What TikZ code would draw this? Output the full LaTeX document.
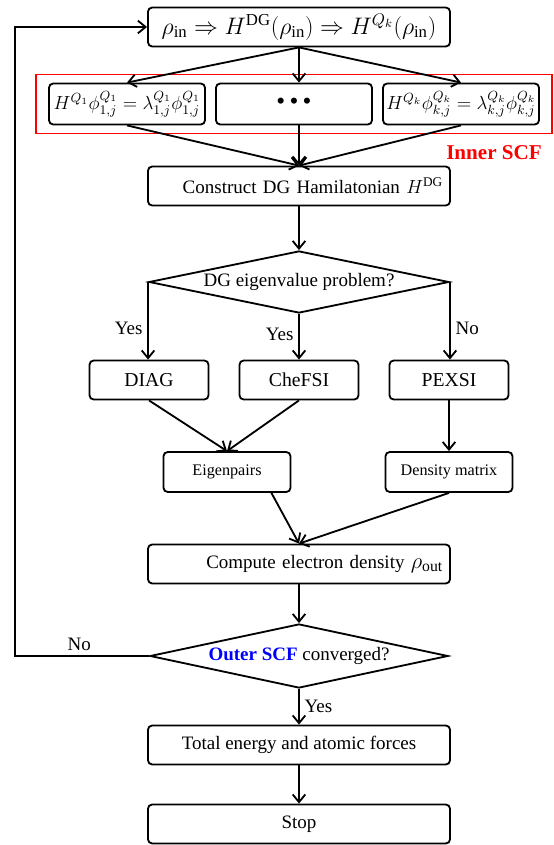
\documentclass[tikz,border=0pt]{standalone}
\usepackage{fix-cm}
\usepackage{fontspec}
\setmainfont{Liberation Serif}
\usepackage{tikz}
\usetikzlibrary{shapes.geometric,arrows.meta,fit}
\tikzset{
	bigbox/.style={draw, rounded corners=3pt, minimum width=7.55cm, minimum height=0.975cm, inner sep=1pt, font=\fontsize{13.5}{16}\selectfont},
	eqbox/.style={draw, rounded corners=3pt, minimum width=3.9cm, minimum height=1.025cm, inner sep=0.5pt, font=\fontsize{13.5}{16}\selectfont},
	solver/.style={draw, rounded corners=3pt, minimum width=2.975cm, minimum height=0.975cm, inner sep=1pt, font=\fontsize{14}{16}\selectfont},
	resbox/.style={draw, rounded corners=3pt, minimum width=3.175cm, minimum height=1cm, inner sep=1pt, font=\fontsize{11.5}{14}\selectfont},
	decision/.style={draw, diamond, aspect=4.8, inner sep=0pt, font=\fontsize{13.5}{16}\selectfont},
	lbl/.style={font=\fontsize{13.5}{16}\selectfont}
}

\begin{document}
\begin{tikzpicture}[x=0.025cm, y=-0.025cm, line width=1.3pt, >={Straight Barb[length=5.5pt,width=9pt]}]
	%%%%% START %%%%%
	\useasboundingbox (0,0) rectangle (553,845);
	
	\node[bigbox, font=\fontsize{17}{20}\selectfont] (rhoin) at (299,27) {$\rho_{\mathrm{in}} \Rightarrow H^{\mathrm{DG}}(\rho_{\mathrm{in}}) \Rightarrow H^{Q_k}(\rho_{\mathrm{in}})$};
	
	\node[eqbox] (eqone) at (127,104) {$H^{Q_1}\phi^{Q_1}_{1,j}=\lambda^{Q_1}_{1,j}\phi^{Q_1}_{1,j}$};
	\node[eqbox, font=\fontsize{18}{18}\selectfont] (eqdots) at (294,104) {\textbullet\,\textbullet\,\textbullet};
	\node[eqbox] (eqk) at (461,104) {$H^{Q_k}\phi^{Q_k}_{k,j}=\lambda^{Q_k}_{k,j}\phi^{Q_k}_{k,j}$};
	\node[draw=red, line width=1pt, fit=(eqone)(eqk), inner xsep=0.3cm, inner ysep=0.2cm] (innerscf) {};
	\node[text=red, font=\bfseries\fontsize{15}{18}\selectfont] (innerlbl) at (494,153) {Inner SCF};
	
	\node[bigbox, text width=7.2cm, align=right] (construct) at (299,186) {Construct DG Hamilatonian $H^{\mathrm{DG}}$};
	\node[decision, minimum width=7.5cm, minimum height=1.55cm] (dgeig) at (299,282) {DG eigenvalue problem?};
	
	\node[solver] (diag) at (149,380) {DIAG};
	\node[solver] (chefsi) at (299,380) {CheFSI};
	\node[solver] (pexsi) at (449,380) {PEXSI};
	
	\node[resbox] (eigpairs) at (227,472) {Eigenpairs};
	\node[resbox] (densmat) at (449,472) {Density matrix};
	
	\node[bigbox, text width=7.2cm, align=right] (compute) at (299,564) {Compute electron density {\fontsize{16}{18}\selectfont$\rho_{\mathrm{out}}$}};
	\node[decision, minimum width=7.45cm, minimum height=1.6cm] (outer) at (299,656) {\textcolor{blue}{\textbf{Outer SCF}} converged?};
	\node[bigbox] (energy) at (299,745) {Total energy and atomic forces};
	\node[bigbox] (stop) at (299,824) {Stop};
	
	\coordinate (loopx) at (15,656);
	
	% inner scf
	\draw[->] (rhoin.south) -- (eqone.north);
	\draw[->] (rhoin.south) -- (rhoin.south |- eqdots.north);
	\draw[->] (rhoin.south) -- (eqk.north);
	\draw[->] (eqone.south) -- (construct.north);
	\draw[->] (rhoin.south |- eqdots.south) -- (construct.north);
	\draw[->] (eqk.south) -- (construct.north);
	
	\draw[->] (construct) -- (dgeig);
	\draw[->] (dgeig.west) -- node[lbl, left, pos=0.6] {Yes} (dgeig.west |- diag.north);
	\draw[->] (dgeig.south) -- node[lbl, left, pos=0.45] {Yes} (chefsi.north);
	\draw[->] (dgeig.east) -- node[lbl, right, pos=0.6] {No} (dgeig.east |- pexsi.north);
	
	\draw[->] (diag.south) -- (eigpairs.north);
	\draw[->] (chefsi.south) -- (eigpairs.north);
	\draw[->] (pexsi.south) -- (pexsi.south |- densmat.north);
	\draw[->] ([xshift=-0.5cm]eigpairs.south east) -- (compute.north);
	\draw[->] (densmat.south) -- (compute.north);
	
	% outer scf
	\draw[->] (compute) -- (outer);
	\draw[->] (outer.west) -- node[lbl, above, pos=0.52] {No} (loopx) |- (rhoin.west);
	\draw[->] (outer.south) -- node[lbl, right] {Yes} (energy.north);
	\draw[->] (energy) -- (stop);
	
	%%%%% END %%%%%
\end{tikzpicture}
\end{document}
